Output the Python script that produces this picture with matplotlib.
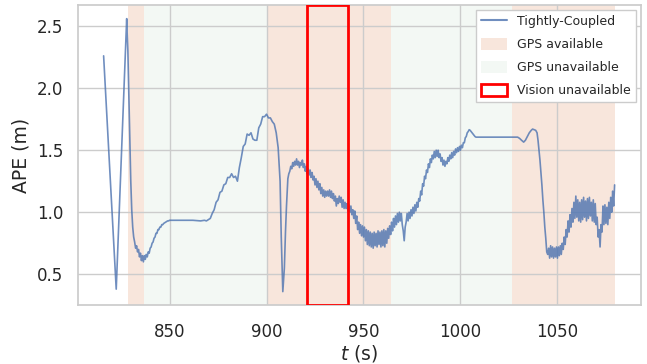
import numpy as np
import matplotlib
matplotlib.use("Agg")
import matplotlib.pyplot as plt
import seaborn as sns
from matplotlib.patches import Patch
from matplotlib.lines import Line2D

# ---------------- data ----------------
# sparse start (s, m)
t_a = [816.0, 822.5, 827.9]
y_a = [2.26, 0.38, 2.56]

# 828.0 .. 850.0 every 0.5 s
t_b0, dt_b = 828.0, 0.5
y_b = [2.50, 2.30, 1.95, 1.60, 1.25, 1.02, 0.88, 0.80, 0.76, 0.71,
       0.73, 0.68, 0.70, 0.64, 0.67, 0.61, 0.65, 0.60, 0.65, 0.62,
       0.66, 0.64, 0.68, 0.67, 0.71, 0.72, 0.75, 0.76, 0.79, 0.80,
       0.83, 0.83, 0.86, 0.86, 0.88, 0.88, 0.90, 0.90, 0.91, 0.915,
       0.92, 0.925, 0.93, 0.93, 0.935]

# flat part
t_c = [851.0, 856.0, 862.0, 866.0, 868.0]
y_c = [0.935, 0.935, 0.935, 0.93, 0.935]

# 869 .. 906 every 1 s
t_d0, dt_d = 869.0, 1.0
y_d = [0.93, 0.94, 0.95, 0.99, 1.02, 1.08, 1.10, 1.16, 1.17, 1.22,
       1.23, 1.28, 1.28, 1.31, 1.28, 1.29, 1.25, 1.36, 1.44, 1.53,
       1.55, 1.63, 1.62, 1.64, 1.59, 1.58, 1.58, 1.68, 1.71, 1.77,
       1.77, 1.79, 1.76, 1.76, 1.73, 1.71, 1.64, 1.52]

# sharp dip
t_e = [907.0, 907.6, 908.4, 909.2, 909.8, 910.3, 910.8]
y_e = [1.25, 0.80, 0.36, 0.55, 0.85, 1.05, 1.22]

# 911.0 .. 1008.0 every 0.5 s
t_f0, dt_f = 911.0, 0.5
y_f = [1.27, 1.31, 1.33, 1.37, 1.35, 1.40, 1.37, 1.41, 1.38, 1.43,
       1.38, 1.41, 1.36, 1.40, 1.38, 1.42, 1.36, 1.39, 1.33, 1.37,
       1.31, 1.35, 1.30, 1.34, 1.28, 1.32, 1.26, 1.29, 1.22, 1.27,
       1.20, 1.25, 1.18, 1.23, 1.15, 1.20, 1.13, 1.18, 1.12, 1.17,
       1.13, 1.17, 1.13, 1.18, 1.12, 1.17, 1.11, 1.15, 1.09, 1.13,
       1.05, 1.11, 1.07, 1.13, 1.08, 1.12, 1.04, 1.10, 1.03, 1.08,
       1.03, 1.07, 1.01, 1.06, 1.00, 1.05, 0.98, 1.02, 0.95, 1.01,
       0.91, 0.97, 0.86, 0.92, 0.83, 0.90, 0.81, 0.89, 0.80, 0.88,
       0.77, 0.86, 0.74, 0.85, 0.73, 0.84, 0.72, 0.83, 0.71, 0.84,
       0.73, 0.83, 0.72, 0.85, 0.74, 0.84, 0.72, 0.85, 0.73, 0.86,
       0.72, 0.85, 0.75, 0.87, 0.79, 0.89, 0.82, 0.92, 0.85, 0.95,
       0.88, 0.97, 0.90, 0.99, 0.92, 1.00, 0.93, 0.99, 0.90, 0.85,
       0.77, 0.88, 0.92, 0.99, 0.93, 1.00, 0.95, 1.02, 0.97, 1.04,
       0.99, 1.06, 1.01, 1.08, 1.04, 1.11, 1.09, 1.17, 1.14, 1.23,
       1.21, 1.29, 1.27, 1.34, 1.32, 1.39, 1.36, 1.43, 1.40, 1.46,
       1.43, 1.49, 1.44, 1.50, 1.45, 1.50, 1.44, 1.47, 1.41, 1.44,
       1.38, 1.42, 1.37, 1.41, 1.39, 1.44, 1.41, 1.46, 1.43, 1.48,
       1.44, 1.49, 1.46, 1.51, 1.48, 1.52, 1.49, 1.53, 1.50, 1.54,
       1.52, 1.56, 1.56, 1.60, 1.61, 1.64, 1.65, 1.665, 1.66, 1.65,
       1.64, 1.63, 1.62, 1.61, 1.605]

# plateau and bump
t_g = [1029.5, 1030.5, 1031.5, 1032.6, 1033.5, 1034.5, 1035.5, 1036.5,
       1037.2, 1038.0, 1038.8, 1039.5, 1040.0]
y_g = [1.605, 1.595, 1.58, 1.565, 1.58, 1.61, 1.64, 1.66,
       1.67, 1.665, 1.66, 1.64, 1.58]

# 1040.5 .. 1079.5 every 0.5 s
t_h0, dt_h = 1040.5, 0.5
y_h = [1.50, 1.42, 1.32, 1.22, 1.10, 1.00, 0.88, 0.79, 0.68, 0.66,
       0.71, 0.63, 0.73, 0.64, 0.72, 0.63, 0.71, 0.64, 0.72, 0.63,
       0.72, 0.65, 0.73, 0.66, 0.75, 0.70, 0.80, 0.74, 0.86, 0.80,
       0.93, 0.84, 0.98, 0.88, 1.03, 0.92, 1.08, 0.95, 1.13, 0.96,
       1.10, 0.93, 1.08, 0.92, 1.10, 0.94, 1.12, 0.96, 1.09, 0.93,
       1.11, 0.95, 1.12, 0.97, 1.08, 0.93, 1.10, 0.92, 1.07, 0.90,
       0.96, 0.80, 0.86, 0.72, 0.90, 0.84, 1.05, 0.90, 1.06, 0.91,
       1.04, 0.90, 1.08, 0.95, 1.12, 1.00, 1.17, 1.05, 1.22]

gps_available = [(828.4, 837.0), (900.0, 964.0), (1026.8, 1079.9)]
gps_unavailable = [(837.0, 900.0), (964.0, 1026.8)]
vision_unavailable = (920.8, 941.9)

series_label = "Tightly-Coupled"

# ---------------- assemble ----------------
def grid(t0, dt, ys):
    return list(t0 + dt * np.arange(len(ys)))

t = (t_a + grid(t_b0, dt_b, y_b) + t_c + grid(t_d0, dt_d, y_d) + t_e
     + grid(t_f0, dt_f, y_f) + t_g + grid(t_h0, dt_h, y_h))
y = y_a + y_b + y_c + y_d + y_e + y_f + y_g + y_h

# ---------------- style ----------------
sns.set_theme(style="whitegrid")
plt.rcParams['font.family'] = ['DejaVu Sans']

c_line = "#4c72b0"
c_avail = "#dd8452"
c_unavail = "#55a868"

fig = plt.figure(figsize=(6.47, 3.64), dpi=100)
ax = fig.add_axes([0.1206, 0.1613, 0.8701, 0.8250])

for a, b in gps_available:
    ax.axvspan(a, b, color=c_avail, alpha=0.2, lw=0, zorder=0)
for a, b in gps_unavailable:
    ax.axvspan(a, b, color=c_unavail, alpha=0.07, lw=0, zorder=0)

ax.plot(t, y, color=c_line, alpha=0.8, lw=1.2, zorder=3)

ax.axvspan(vision_unavailable[0], vision_unavailable[1], facecolor="none",
           edgecolor="red", lw=2, zorder=4)

ax.set_xticks([850, 900, 950, 1000, 1050])
ax.set_yticks([0.5, 1.0, 1.5, 2.0, 2.5])
ax.tick_params(axis="x", labelsize=12, pad=7)
ax.tick_params(axis="y", labelsize=12, pad=4.5)
ax.set_xlabel(r"$t$ (s)", fontsize=13.5, labelpad=1)
ax.set_ylabel("APE (m)", fontsize=13.5, labelpad=5)

handles = [
    Line2D([], [], color=c_line, alpha=0.8, lw=1.5),
    Patch(facecolor=c_avail, alpha=0.2, edgecolor="none"),
    Patch(facecolor=c_unavail, alpha=0.07, edgecolor="none"),
    Patch(facecolor="white", edgecolor="red", lw=2),
]
labels = [series_label, "GPS available", "GPS unavailable", "Vision unavailable"]
leg = ax.legend(handles, labels, loc="upper right", fontsize=9,
                handleheight=1.1, handlelength=2.1, labelspacing=0.78,
                borderaxespad=0.4, fancybox=False, framealpha=1)
leg.get_frame().set_edgecolor("#cccccc")

fig.savefig("out.png", dpi=100)
